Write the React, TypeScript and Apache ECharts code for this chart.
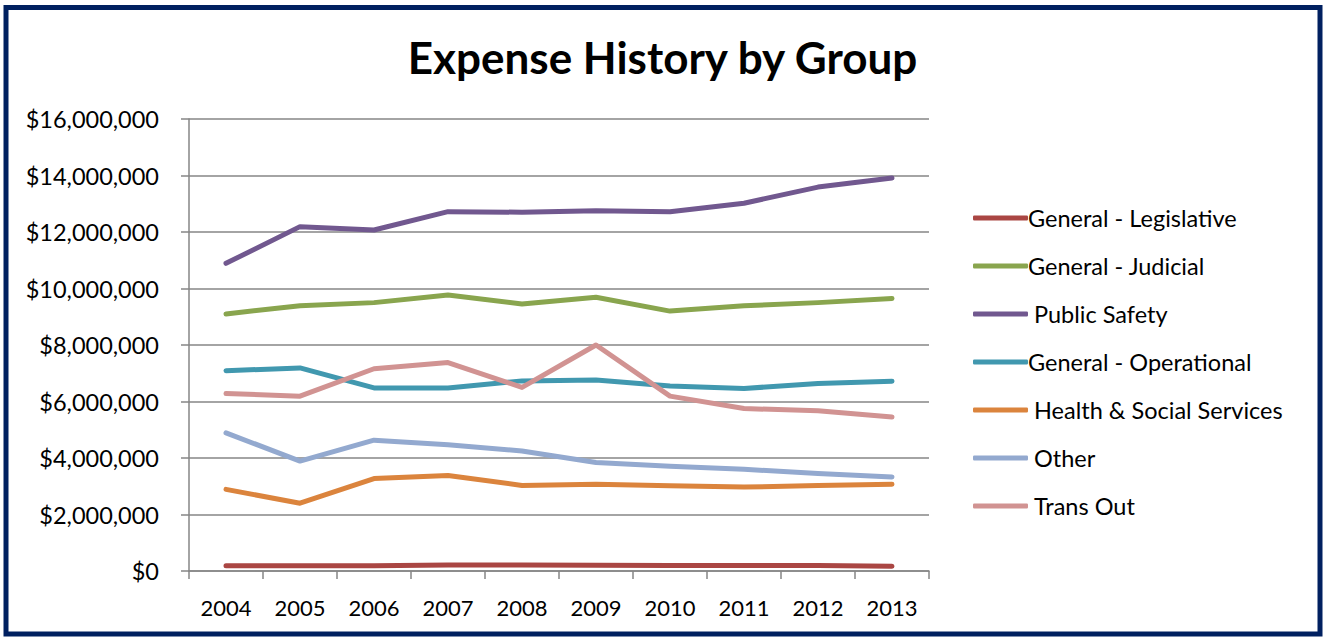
import React, { useEffect, useRef } from "react";
import * as echarts from "echarts";

const years = ["2004", "2005", "2006", "2007", "2008", "2009", "2010", "2011", "2012", "2013"];
const seriesNames = [
  "General - Legislative",
  "General - Judicial",
  "Public Safety",
  "General - Operational",
  "Health & Social Services",
  "Other",
  "Trans Out",
];
const indentedNames = ["Public Safety", "Health & Social Services", "Other", "Trans Out"];
const legislative = [190000, 190000, 185000, 215000, 215000, 200000, 195000, 195000, 195000, 170000];
const judicial = [9100000, 9390000, 9500000, 9770000, 9450000, 9690000, 9200000, 9390000, 9500000, 9650000];
const publicSafety = [10890000, 12190000, 12070000, 12720000, 12700000, 12750000, 12720000, 13020000, 13590000, 13910000];
const operational = [7090000, 7190000, 6480000, 6480000, 6730000, 6760000, 6550000, 6460000, 6640000, 6720000];
const health = [2890000, 2400000, 3270000, 3380000, 3030000, 3070000, 3020000, 2970000, 3030000, 3070000];
const other = [4890000, 3890000, 4630000, 4470000, 4250000, 3840000, 3710000, 3600000, 3450000, 3330000];
const transOut = [6280000, 6190000, 7160000, 7380000, 6500000, 8000000, 6190000, 5750000, 5670000, 5450000];
const seriesValues = [legislative, judicial, publicSafety, operational, health, other, transOut];
const colors = ["#AA4643", "#89A54E", "#71588F", "#4198AF", "#DB843D", "#93A9CF", "#D19392"];
const yTicks = { min: 0, max: 16000000, interval: 2000000 };

const fontFamily = "Lato, 'Open Sans', sans-serif";

export default function App() {
  const ref = useRef<HTMLDivElement>(null);
  useEffect(() => {
    document.body.style.margin = "0";
    const chart = echarts.init(ref.current!, null, { renderer: "svg" });
    chart.setOption({
      animation: false,
      backgroundColor: "#ffffff",
      color: colors,
      title: {
        text: "Expense History by Group",
        left: "center",
        top: 30,
        textStyle: { fontFamily, fontWeight: "bold", fontSize: 44, color: "#000" },
      },
      legend: {
        orient: "vertical",
        left: 968,
        top: 201,
        itemWidth: 55,
        itemHeight: 5,
        itemGap: 24,
        icon: "roundRect",
        data: seriesNames,
        formatter: (name: string) => (indentedNames.includes(name) ? "{s|}" + name : name),
        textStyle: {
          fontFamily,
          fontSize: 23.5,
          color: "#000",
          padding: [0, 0, 0, -5],
          rich: { s: { width: 6 } },
        },
      },
      grid: { left: 189, right: 396, top: 119, bottom: 66 },
      xAxis: {
        type: "category",
        data: years,
        boundaryGap: true,
        axisLine: { lineStyle: { color: "#868686", width: 1.5 } },
        axisTick: { show: true, length: 8, alignWithLabel: false, lineStyle: { color: "#868686", width: 1.5 } },
        axisLabel: { fontFamily, fontSize: 22, color: "#000", margin: 25 },
      },
      yAxis: {
        type: "value",
        min: yTicks.min,
        max: yTicks.max,
        interval: yTicks.interval,
        axisLine: { show: true, lineStyle: { color: "#868686", width: 1.5 } },
        axisTick: { show: true, length: 8, lineStyle: { color: "#868686", width: 1.5 } },
        splitLine: { lineStyle: { color: "#868686", width: 1.5 } },
        axisLabel: {
          fontFamily,
          fontSize: 23.5,
          color: "#000",
          margin: 30,
          formatter: (v: number) => "$" + v.toLocaleString("en-US"),
        },
      },
      series: seriesNames.map((name, i) => ({
        name,
        type: "line",
        data: seriesValues[i],
        symbol: "none",
        lineStyle: { width: 5, color: colors[i], cap: "round", join: "round" },
        itemStyle: { color: colors[i] },
      })),
      graphic: [
        {
          type: "rect",
          shape: { x: 6, y: 7.5, width: 1314, height: 626.5 },
          style: { fill: "none", stroke: "#002060", lineWidth: 5 },
          z: 100,
        },
      ],
    });
    return () => chart.dispose();
  }, []);
  return <div ref={ref} style={{ width: 1325, height: 637 }} />;
}
